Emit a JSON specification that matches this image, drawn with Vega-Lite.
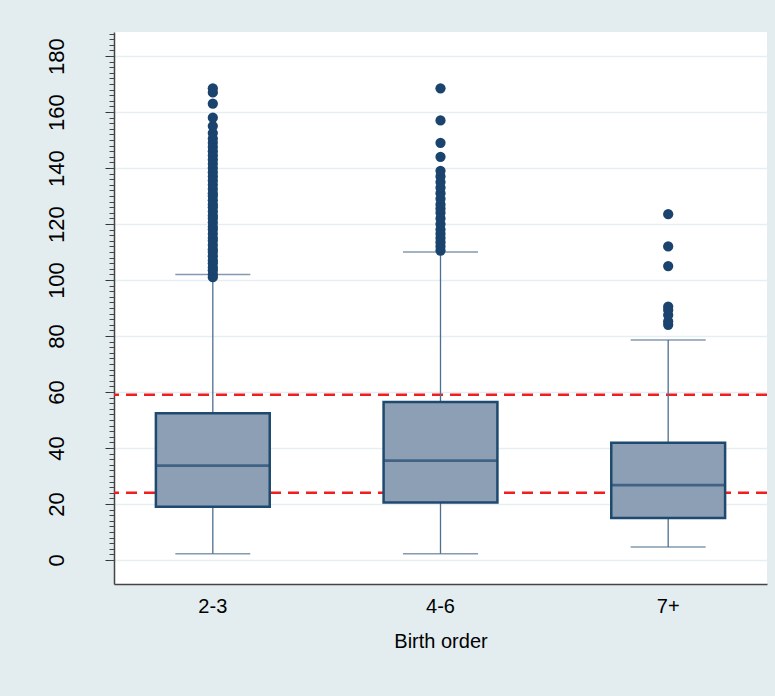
{
  "$schema": "https://vega.github.io/schema/vega-lite/v6.json",
  "width": 653,
  "height": 552,
  "autosize": {"type": "none"},
  "padding": {"left": 114, "top": 32, "right": 8, "bottom": 112},
  "background": "#e3edf0",
  "config": {
    "view": {"fill": "white", "stroke": null},
    "font": "Liberation Sans",
    "axis": {"labelFont": "Liberation Sans", "titleFont": "Liberation Sans", "labelColor": "#000000", "titleColor": "#000000"}
  },
  "datasets": {
    "summary": [
      {"group": "2-3", "lower": 2.2, "q1": 19.0, "median": 33.7, "q3": 52.4, "upper": 102},
      {"group": "4-6", "lower": 2.2, "q1": 20.5, "median": 35.5, "q3": 56.4, "upper": 110},
      {"group": "7+", "lower": 4.6, "q1": 15.0, "median": 26.7, "q3": 41.9, "upper": 78.6}
    ],
    "refs": [{"ref": 59.0}, {"ref": 24.0}],
    "outliers": [
      {"group": "2-3", "value": 101}, {"group": "2-3", "value": 102}, {"group": "2-3", "value": 103.5},
      {"group": "2-3", "value": 104.5}, {"group": "2-3", "value": 106}, {"group": "2-3", "value": 107},
      {"group": "2-3", "value": 108.5}, {"group": "2-3", "value": 110}, {"group": "2-3", "value": 111},
      {"group": "2-3", "value": 112.5}, {"group": "2-3", "value": 114}, {"group": "2-3", "value": 115},
      {"group": "2-3", "value": 116.5}, {"group": "2-3", "value": 118}, {"group": "2-3", "value": 119},
      {"group": "2-3", "value": 120.5}, {"group": "2-3", "value": 122}, {"group": "2-3", "value": 123},
      {"group": "2-3", "value": 124.5}, {"group": "2-3", "value": 126}, {"group": "2-3", "value": 127},
      {"group": "2-3", "value": 128.5}, {"group": "2-3", "value": 130}, {"group": "2-3", "value": 131},
      {"group": "2-3", "value": 132.5}, {"group": "2-3", "value": 134}, {"group": "2-3", "value": 135.5},
      {"group": "2-3", "value": 137}, {"group": "2-3", "value": 138.5}, {"group": "2-3", "value": 140},
      {"group": "2-3", "value": 141.5}, {"group": "2-3", "value": 143}, {"group": "2-3", "value": 144.5},
      {"group": "2-3", "value": 146}, {"group": "2-3", "value": 147.5}, {"group": "2-3", "value": 149},
      {"group": "2-3", "value": 150.5}, {"group": "2-3", "value": 152.5}, {"group": "2-3", "value": 155},
      {"group": "2-3", "value": 158}, {"group": "2-3", "value": 163}, {"group": "2-3", "value": 167},
      {"group": "2-3", "value": 168.5},
      {"group": "4-6", "value": 110.5}, {"group": "4-6", "value": 112}, {"group": "4-6", "value": 113.5},
      {"group": "4-6", "value": 115}, {"group": "4-6", "value": 116.5}, {"group": "4-6", "value": 118},
      {"group": "4-6", "value": 120}, {"group": "4-6", "value": 122}, {"group": "4-6", "value": 124},
      {"group": "4-6", "value": 125.5}, {"group": "4-6", "value": 127}, {"group": "4-6", "value": 129},
      {"group": "4-6", "value": 131}, {"group": "4-6", "value": 133}, {"group": "4-6", "value": 135},
      {"group": "4-6", "value": 137}, {"group": "4-6", "value": 139}, {"group": "4-6", "value": 144},
      {"group": "4-6", "value": 149}, {"group": "4-6", "value": 157}, {"group": "4-6", "value": 168.5},
      {"group": "7+", "value": 84}, {"group": "7+", "value": 85.2}, {"group": "7+", "value": 87.5},
      {"group": "7+", "value": 89.3}, {"group": "7+", "value": 90.5}, {"group": "7+", "value": 105},
      {"group": "7+", "value": 112}, {"group": "7+", "value": 123.5}
    ]
  },
  "resolve": {"axis": {"y": "independent"}},
  "layer": [
    {
      "data": {"name": "refs"},
      "mark": {"type": "rule", "color": "#f21d1d", "strokeWidth": 2.5, "strokeDash": [11, 7]},
      "encoding": {
        "y": {
          "field": "ref", "type": "quantitative",
          "scale": {"domain": [-8.6, 188.6], "nice": false, "zero": false},
          "axis": {
            "orient": "left",
            "values": [0, 20, 40, 60, 80, 100, 120, 140, 160, 180],
            "title": null,
            "grid": true, "gridColor": "#e6eef1", "gridWidth": 1.5,
            "labelAngle": -90, "labelFontSize": 22, "labelPadding": 37,
            "tickSize": 9, "tickColor": "#333333", "tickWidth": 1,
            "domainColor": "#444444", "domainWidth": 1.5
          }
        }
      }
    },
    {
      "data": {"name": "summary"},
      "mark": {"type": "rule", "color": "#4f6f8f", "strokeWidth": 1.3},
      "encoding": {
        "x": {
          "field": "group", "type": "nominal", "sort": ["2-3", "4-6", "7+"],
          "scale": {"paddingInner": 0.5, "paddingOuter": 0.184},
          "axis": {
            "title": "Birth order", "titleFontSize": 20, "titleFontWeight": "normal", "titlePadding": 15,
            "labelAngle": 0, "labelFontSize": 20, "labelPadding": 12,
            "ticks": false, "domainColor": "#444444", "domainWidth": 1.5
          }
        },
        "y": {
          "field": "lower", "type": "quantitative",
          "axis": {
            "orient": "left", "title": null, "labels": false, "grid": false, "domain": false,
            "values": [0,2,4,6,8,10,12,14,16,18,20,22,24,26,28,30,32,34,36,38,40,42,44,46,48,50,52,54,56,58,60,62,64,66,68,70,72,74,76,78,80,82,84,86,88,90,92,94,96,98,100,102,104,106,108,110,112,114,116,118,120,122,124,126,128,130,132,134,136,138,140,142,144,146,148,150,152,154,156,158,160,162,164,166,168,170,172,174,176,178,180,182,184,186,188],
            "tickSize": 5, "tickColor": "#444444", "tickWidth": 1
          }
        },
        "y2": {"field": "upper"}
      }
    },
    {
      "data": {"name": "summary"},
      "mark": {"type": "tick", "orient": "horizontal", "color": "#4f6f8f", "size": 75, "thickness": 1.5},
      "encoding": {
        "x": {"field": "group", "type": "nominal", "sort": ["2-3", "4-6", "7+"]},
        "y": {"field": "lower", "type": "quantitative", "axis": null}
      }
    },
    {
      "data": {"name": "summary"},
      "mark": {"type": "tick", "orient": "horizontal", "color": "#4f6f8f", "size": 75, "thickness": 1.5},
      "encoding": {
        "x": {"field": "group", "type": "nominal", "sort": ["2-3", "4-6", "7+"]},
        "y": {"field": "upper", "type": "quantitative", "axis": null}
      }
    },
    {
      "data": {"name": "summary"},
      "mark": {"type": "bar", "fill": "#8c9fb4", "stroke": "#1f4a70", "strokeWidth": 2.5},
      "encoding": {
        "x": {"field": "group", "type": "nominal", "sort": ["2-3", "4-6", "7+"]},
        "y": {"field": "q1", "type": "quantitative", "axis": null},
        "y2": {"field": "q3"}
      }
    },
    {
      "data": {"name": "summary"},
      "mark": {"type": "tick", "orient": "horizontal", "color": "#1f4a70", "size": 114, "thickness": 2.8},
      "encoding": {
        "x": {"field": "group", "type": "nominal", "sort": ["2-3", "4-6", "7+"]},
        "y": {"field": "median", "type": "quantitative", "axis": null}
      }
    },
    {
      "data": {"name": "outliers"},
      "mark": {"type": "point", "filled": true, "shape": "circle", "color": "#1a446d", "size": 105, "opacity": 1},
      "encoding": {
        "x": {"field": "group", "type": "nominal", "sort": ["2-3", "4-6", "7+"]},
        "y": {"field": "value", "type": "quantitative", "axis": null}
      }
    }
  ]
}
